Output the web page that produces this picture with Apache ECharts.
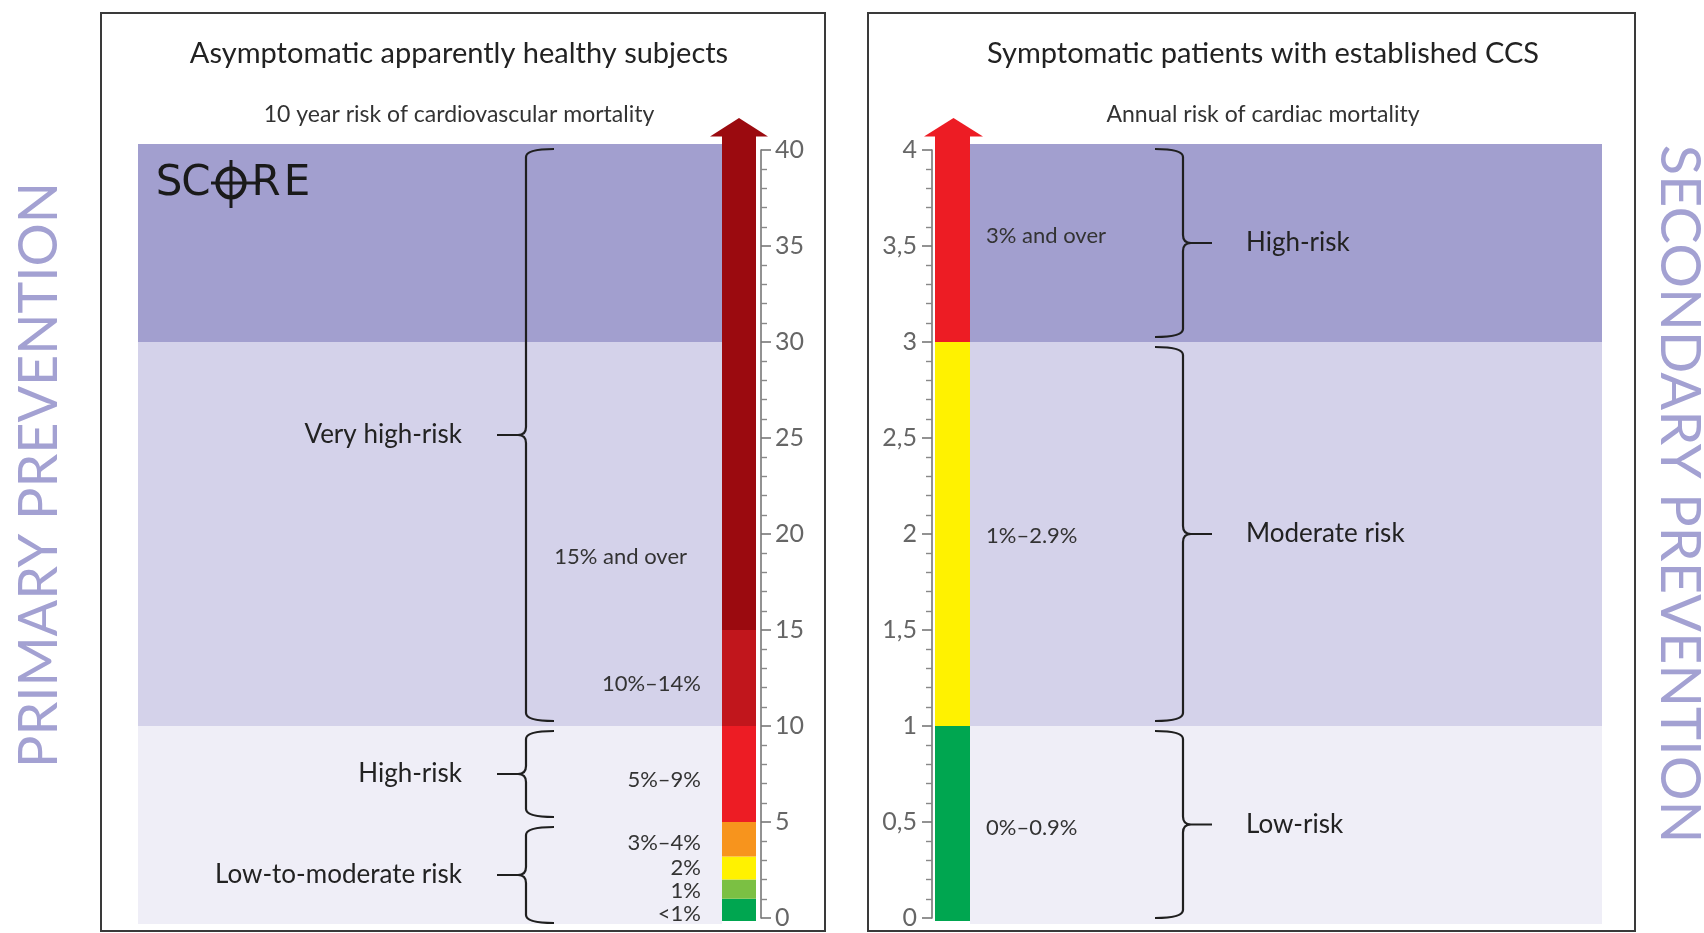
<!DOCTYPE html>
<html><head><meta charset="utf-8">
<script src="https://cdn.jsdelivr.net/npm/echarts@6/dist/echarts.min.js"></script>
<style>html,body{margin:0;padding:0;background:#fff;overflow:hidden}#c{width:1704px;height:933px}</style>
</head><body><div id="c"></div>
<script>
// ---------- DATA ----------
// Primary prevention: 10-year risk of cardiovascular mortality (SCORE), %
const primaryTickMin = 0, primaryTickMax = 40, primaryTickStep = 5;
const primaryBins = ['<1%', '1%', '2%', '3%–4%', '5%–9%', '10%–14%', '15% and over'];
const primaryBinLow = [0, 1, 2, 3.2, 5, 10, 15];
const primaryBinHigh = [1, 2, 3.2, 5, 10, 15, 40];
const primaryBinLabelAt = [0.2, 1.4, 2.6, 3.9, 7.2, 12.2, 18.8];
const primaryGroups = ['Low-to-moderate risk', 'High-risk', 'Very high-risk'];
const primaryGroupLow = [0, 5, 10];
const primaryGroupHigh = [5, 10, 40];
const primaryBandLow = [0, 10, 30];
const primaryBandHigh = [10, 30, 40];

// Secondary prevention: annual risk of cardiac mortality, %
const secondaryTickMin = 0, secondaryTickMax = 4, secondaryTickStep = 0.5;
const secondaryBins = ['0%–0.9%', '1%–2.9%', '3% and over'];
const secondaryBinLow = [0, 1, 3];
const secondaryBinHigh = [1, 3, 4];
const secondaryBinLabelAt = [0.47, 1.99, 3.55];
const secondaryGroups = ['Low-risk', 'Moderate risk', 'High-risk'];
const secondaryGroupLow = [0, 1, 3];
const secondaryGroupHigh = [1, 3, 4];
const secondaryBandLow = [0, 1, 3];
const secondaryBandHigh = [1, 3, 4];

// ---------- STYLE / LAYOUT ----------
const bandColors = ['#efeef7', '#d4d2ea', '#a29fcf'];
const primaryBarColors = ['#00a650', '#7bc043', '#fff200', '#f7941d', '#ed1c24', '#c1161c', '#9b0a0f'];
const secondaryBarColors = ['#00a650', '#fff200', '#ed1c24'];
const primaryBinLabelShift = [0, 0, 0, 0, 0, 0, -14];
const secondaryBinLabelShift = [0, 0, 0];
const FONT = 'Lato, "Open Sans", sans-serif';
const TOP = 150, BOTTOM = 918;
const HEAD_BASE = 136, HEAD_TIP = 118;
const P = { max: primaryTickMax, bandLeft: 138, bandRight: 722, barLeft: 722, barRight: 756, headLeft: 710, headRight: 768,
  braceX: 526, braceDir: -1, bottomOut: 5, groupLabelX: 462, groupAlign: 'right', binLabelX: 701, binAlign: 'right', shift: primaryBinLabelShift };
const S = { max: secondaryTickMax, bandLeft: 970, bandRight: 1602, barLeft: 935, barRight: 970, headLeft: 924, headRight: 983,
  braceX: 1183, braceDir: 1, bottomOut: 0, groupLabelX: 1246, groupAlign: 'left', binLabelX: 986, binAlign: 'left', shift: secondaryBinLabelShift };

function pairs(lo, hi, extra) { return lo.map((v, i) => extra ? [v, hi[i], extra[i]] : [v, hi[i]]); }

function bandRender(panel) {
  return function (params, api) {
    const lo = api.value(0), hi = api.value(1);
    let y1 = api.coord([0, hi])[1], y2 = api.coord([0, lo])[1];
    if (hi >= panel.max) y1 -= 6;
    if (lo <= 0) y2 += 6;
    return { type: 'rect', shape: { x: panel.bandLeft, y: y1, width: panel.bandRight - panel.bandLeft, height: y2 - y1 },
      style: { fill: bandColors[params.dataIndex] } };
  };
}

function barRender(panel, colors, names) {
  return function (params, api) {
    const lo = api.value(0), hi = api.value(1), at = api.value(2);
    let y1 = api.coord([0, hi])[1], y2 = api.coord([0, lo])[1];
    const children = [];
    const col = colors[params.dataIndex];
    if (lo <= 0) y2 += 3;
    if (hi >= panel.max) {
      y1 = HEAD_BASE;
      children.push({ type: 'polygon', shape: { points: [[panel.headLeft, HEAD_BASE + 0.5], [panel.headRight, HEAD_BASE + 0.5], [(panel.headLeft + panel.headRight) / 2, HEAD_TIP]] },
        style: { fill: col } });
    }
    children.push({ type: 'rect', shape: { x: panel.barLeft, y: y1, width: panel.barRight - panel.barLeft, height: y2 - y1 }, style: { fill: col } });
    children.push({ type: 'text', x: panel.binLabelX + panel.shift[params.dataIndex], y: api.coord([0, at])[1],
      style: { text: names[params.dataIndex], align: panel.binAlign, textAlign: panel.binAlign, verticalAlign: 'middle', textVerticalAlign: 'middle',
        font: '22px ' + FONT, fill: '#333' } });
    return { type: 'group', children };
  };
}

function bracePath(x, y1, y2, d, h, t, r) {
  const ym = (y1 + y2) / 2, hx = x - d * h;
  return 'M' + hx + ',' + y1 + ' Q' + x + ',' + y1 + ' ' + x + ',' + (y1 + r) +
    ' L' + x + ',' + (ym - r) + ' Q' + x + ',' + ym + ' ' + (x + d * r) + ',' + ym +
    ' L' + (x + d * t) + ',' + ym +
    ' M' + (x + d * r) + ',' + ym + ' Q' + x + ',' + ym + ' ' + x + ',' + (ym + r) +
    ' L' + x + ',' + (y2 - r) + ' Q' + x + ',' + y2 + ' ' + hx + ',' + y2;
}

function braceRender(panel, names) {
  return function (params, api) {
    const lo = api.value(0), hi = api.value(1);
    let y1 = api.coord([0, hi])[1] + (hi >= panel.max ? -1 : 5);
    let y2 = api.coord([0, lo])[1] + (lo <= 0 ? panel.bottomOut : -5);
    const ym = (y1 + y2) / 2;
    return { type: 'group', children: [
      { type: 'path', shape: { pathData: bracePath(panel.braceX, y1, y2, panel.braceDir, 28, 29, 8) },
        style: { fill: 'none', stroke: '#1f1f1f', lineWidth: 2.2 } },
      { type: 'text', x: panel.groupLabelX, y: ym,
        style: { text: names[params.dataIndex], align: panel.groupAlign, textAlign: panel.groupAlign, verticalAlign: 'middle', textVerticalAlign: 'middle',
          font: '26px ' + FONT, fill: '#222' } }
    ] };
  };
}

const axisCommon = {
  type: 'value',
  axisLine: { show: true, onZero: false, lineStyle: { color: '#777', width: 1.6 } },
  axisTick: { show: true, length: 10, lineStyle: { color: '#777', width: 1.6 } },
  minorTick: { show: true, splitNumber: 5, length: 6, lineStyle: { color: '#888', width: 1.4 } },
  splitLine: { show: false },
  axisLabel: { color: '#666', fontSize: 25, fontFamily: FONT }
};

const chart = echarts.init(document.getElementById('c'), null, { renderer: 'canvas' });
const txt = (x, y, text, font, fill, extra) => Object.assign({ type: 'text', x, y,
  style: { text, align: 'center', textAlign: 'center', verticalAlign: 'middle', textVerticalAlign: 'middle', font, fill } }, extra || {});
const logoFont = '500 42px "DejaVu Sans", sans-serif';
chart.setOption({
  backgroundColor: '#fff',
  animation: false,
  grid: [
    { left: 138, top: TOP, width: 761 - 138, height: BOTTOM - TOP },
    { left: 932, top: TOP, width: 1602 - 932, height: BOTTOM - TOP }
  ],
  xAxis: [
    { type: 'value', gridIndex: 0, min: 0, max: 1, show: false },
    { type: 'value', gridIndex: 1, min: 0, max: 1, show: false }
  ],
  yAxis: [
    Object.assign({}, axisCommon, { gridIndex: 0, position: 'right', min: primaryTickMin, max: primaryTickMax, interval: primaryTickStep,
      axisLabel: Object.assign({}, axisCommon.axisLabel, { margin: 14 }) }),
    Object.assign({}, axisCommon, { gridIndex: 1, position: 'left', min: secondaryTickMin, max: secondaryTickMax, interval: secondaryTickStep,
      axisLabel: Object.assign({}, axisCommon.axisLabel, { margin: 15, formatter: v => String(v).replace('.', ',') }) })
  ],
  series: [
    { type: 'custom', xAxisIndex: 0, yAxisIndex: 0, z: 1, clip: false, silent: true, data: pairs(primaryBandLow, primaryBandHigh), renderItem: bandRender(P) },
    { type: 'custom', xAxisIndex: 1, yAxisIndex: 1, z: 1, clip: false, silent: true, data: pairs(secondaryBandLow, secondaryBandHigh), renderItem: bandRender(S) },
    { type: 'custom', xAxisIndex: 0, yAxisIndex: 0, z: 3, clip: false, silent: true, data: pairs(primaryBinLow, primaryBinHigh, primaryBinLabelAt), renderItem: barRender(P, primaryBarColors, primaryBins) },
    { type: 'custom', xAxisIndex: 1, yAxisIndex: 1, z: 3, clip: false, silent: true, data: pairs(secondaryBinLow, secondaryBinHigh, secondaryBinLabelAt), renderItem: barRender(S, secondaryBarColors, secondaryBins) },
    { type: 'custom', xAxisIndex: 0, yAxisIndex: 0, z: 4, clip: false, silent: true, data: pairs(primaryGroupLow, primaryGroupHigh), renderItem: braceRender(P, primaryGroups) },
    { type: 'custom', xAxisIndex: 1, yAxisIndex: 1, z: 4, clip: false, silent: true, data: pairs(secondaryGroupLow, secondaryGroupHigh), renderItem: braceRender(S, secondaryGroups) }
  ],
  graphic: [
    { type: 'rect', z: 0, shape: { x: 101, y: 13, width: 724, height: 918 }, style: { fill: 'none', stroke: '#3a3a3a', lineWidth: 2 } },
    { type: 'rect', z: 0, shape: { x: 868, y: 13, width: 767, height: 918 }, style: { fill: 'none', stroke: '#3a3a3a', lineWidth: 2 } },
    txt(459, 54, 'Asymptomatic apparently healthy subjects', '29px ' + FONT, '#222'),
    txt(459, 115, '10 year risk of cardiovascular mortality', '23px ' + FONT, '#333'),
    txt(1263, 54, 'Symptomatic patients with established CCS', '29px ' + FONT, '#222'),
    txt(1263, 115, 'Annual risk of cardiac mortality', '23px ' + FONT, '#333'),
    txt(40, 475, 'PRIMARY PREVENTION', '54px ' + FONT, '#a3a1d2', { rotation: Math.PI / 2 }),
    txt(1679, 494, 'SECONDARY PREVENTION', '56px ' + FONT, '#a3a1d2', { rotation: -Math.PI / 2 }),
    // SCORE logo
    txt(169, 184, 'S', logoFont, '#1a1a1a', { z: 10 }),
    txt(196, 184, 'C', logoFont, '#1a1a1a', { z: 10 }),
    txt(266, 184, 'R', logoFont, '#1a1a1a', { z: 10 }),
    txt(297, 184, 'E', logoFont, '#1a1a1a', { z: 10 }),
    { type: 'ellipse', z: 10, shape: { cx: 231, cy: 183, rx: 13.5, ry: 14.5 }, style: { fill: 'none', stroke: '#1a1a1a', lineWidth: 4.2 } },
    { type: 'line', z: 10, shape: { x1: 231, y1: 160, x2: 231, y2: 208 }, style: { stroke: '#1a1a1a', lineWidth: 3 } },
    { type: 'line', z: 10, shape: { x1: 211, y1: 183, x2: 260, y2: 183 }, style: { stroke: '#1a1a1a', lineWidth: 3 } }
  ]
});
</script>
</body></html>
